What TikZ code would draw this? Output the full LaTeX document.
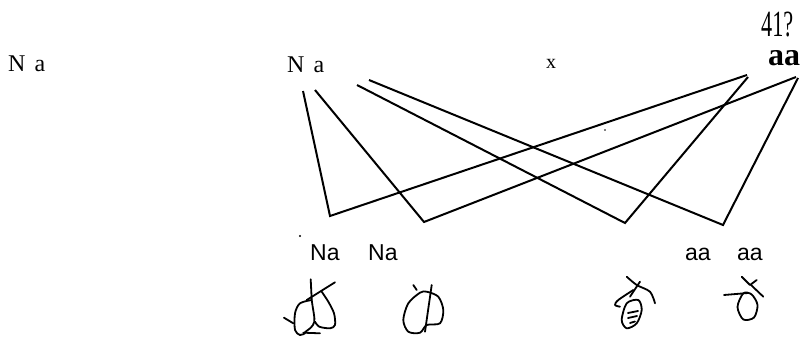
\documentclass[tikz,border=0pt]{standalone}
\usepackage{fontspec}
\setmainfont{Liberation Serif}
\newfontfamily\labsans{Liberation Sans}
\begin{document}
\begin{tikzpicture}[x=1pt,y=-1pt,
  serlab/.style={inner sep=0pt,anchor=base west,font=\fontsize{24}{24}\selectfont},
  sanlab/.style={inner sep=0pt,anchor=base west,font=\labsans\fontsize{23}{23}\selectfont},
  wire/.style={line width=2pt,line join=miter},
  pen/.style={line width=1.8pt,line cap=round,line join=round}]
\useasboundingbox (0,0) rectangle (808,337);
% top labels
\node[serlab] (na1) at (8,71) {N\hspace{9pt}a};
\node[serlab] (na2) at (287,72) {N\hspace{9pt}a};
\node[inner sep=0pt,anchor=base west,font=\fontsize{20}{20}\selectfont] (xx) at (546,68) {x};
\node[inner sep=0pt,anchor=base west,font=\bfseries\fontsize{32}{32}\selectfont] (aat) at (768,66) {aa};
\node[inner sep=0pt,anchor=base west] (num) at (761,37) {\scalebox{0.6}[1]{\fontsize{37}{37}\selectfont 41?}};
% bottom labels
\node[sanlab] (bn1) at (310,260) {Na};
\node[sanlab] (bn2) at (368,260) {Na};
\node[sanlab] (ba1) at (685,260) {aa};
\node[sanlab] (ba2) at (737,260) {aa};
% corner points
\coordinate (t1) at (303,91);
\coordinate (t2) at (315,90);
\coordinate (t3) at (357,85);
\coordinate (t4) at (369,80);
\coordinate (b1) at (330,216);
\coordinate (b2) at (424,222);
\coordinate (b3) at (625,223);
\coordinate (b4) at (723,225);
\coordinate (r1) at (747,75);
\coordinate (r2) at (796,77);
\coordinate (r3) at (748,77);
\coordinate (r4) at (798,78);
\draw[wire] (t1) -- (b1) -- (r1);
\draw[wire] (t2) -- (b2) -- (r2);
\draw[wire] (t3) -- (b3) -- (r3);
\draw[wire] (t4) -- (b4) -- (r4);
% specks
\fill (300,236) circle (1.1);
\fill (605,130) circle (0.9);
% glyph 1
\draw[pen] (310.7,279.3) -- (311.7,300) .. controls (313,310) and (315,318) .. (314.3,322) .. controls (313,327) and (308,330) .. (305,332);
\draw[pen] plot[smooth] coordinates {(311.7,300) (300,303.3) (295,313.3) (295,330) (300,335) (305,333.3)};
\draw[pen] (303.3,332.7) -- (320,333.3);
\draw[pen] (284,317.7) -- (293.3,323.3);
\draw[pen] (306.7,300) -- (335,282.3);
\draw[pen] plot[smooth] coordinates {(321.7,291.7) (328.3,301.7) (334,313.3) (335,325) (330,328.3) (319.3,326.7) (315,321.7)};
% glyph 2
\draw[pen] (413.3,285) -- (416.7,290);
\draw[pen] (431.7,285) -- (425,331.7);
\draw[pen] plot[smooth cycle] coordinates {(420,292.7) (408.3,303.3) (403.3,320) (408.3,331.7) (420,332.7) (426.7,325) (440,323.3) (443.3,310) (438.3,296.7) (426.7,291.7)};
% glyph 3
\draw[pen] plot[smooth] coordinates {(626.7,276.7) (636.7,285) (650,291.7) (655,303.3)};
\draw[pen] (640,281.7) -- (630,296.7);
\draw[pen] plot[smooth] coordinates {(633.3,290) (618.3,300) (615,305) (620,306.7)};
\draw[pen] plot[smooth cycle] coordinates {(626.7,303.3) (621.7,320) (626.7,328.3) (636.7,323.3) (641.7,310) (638.3,300)};
\draw[pen] (628,313) -- (638,311);
\draw[pen] (628,318) -- (637,316);
\draw[pen] (630,323) -- (635,321.5);
% glyph 4
\draw[pen] (724,295) -- (748,293);
\draw[pen] (741.7,276.7) -- (750,285) -- (756.7,280);
\draw[pen] (751,285) -- (763.3,296.7);
\draw[pen] plot[smooth cycle] coordinates {(743.3,293.3) (737.5,307) (743.3,319.5) (754,317.5) (757.5,305) (751.7,294.5)};
\end{tikzpicture}
\end{document}
